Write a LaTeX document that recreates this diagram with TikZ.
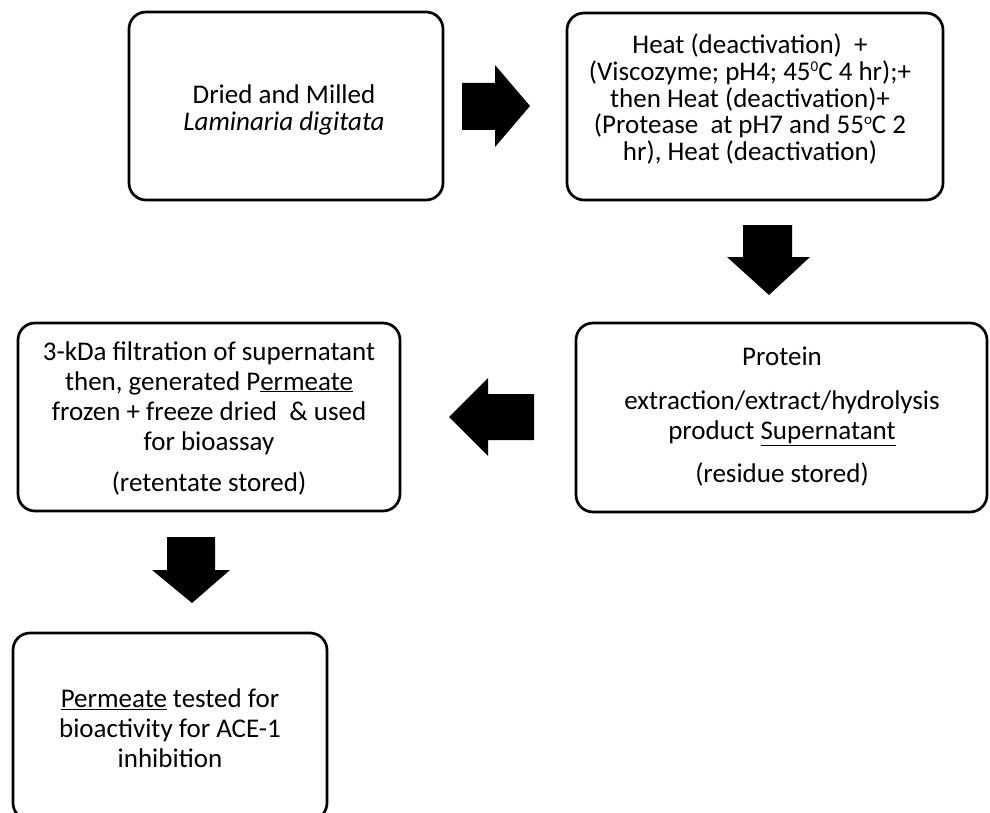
\documentclass[tikz,border=0pt]{standalone}
\usepackage{fontspec}
\setmainfont{Carlito}
\newcommand{\supsm}[1]{\smash{\raisebox{0.33em}{\fontsize{15pt}{15pt}\selectfont #1}}}
\begin{document}
\begin{tikzpicture}[x=1pt,y=-1pt,
  box/.style={draw=black, line width=2.7pt, rounded corners=17pt, fill=white, inner sep=0pt},
  txt/.style={align=center, inner sep=0pt, font=\fontsize{27pt}{30pt}\selectfont},
  txttight/.style={align=center, inner sep=0pt, font=\fontsize{27pt}{26.7pt}\selectfont},
  blockarrow/.style={fill=black, draw=none}]
\useasboundingbox (0,0) rectangle (990,813);
\clip (0,0) rectangle (990,813);
\fill[white] (0,0) rectangle (990,813);

% boxes
\node[box, minimum width=314pt, minimum height=188pt] (b1) at (286,106) {};
\node[box, minimum width=376pt, minimum height=187pt] (b2) at (755,106.5) {};
\node[box, minimum width=382pt, minimum height=188pt] (b3) at (209,417) {};
\node[box, minimum width=411pt, minimum height=189pt] (b4) at (781.5,417.5) {};
\node[box, minimum width=314pt, minimum height=187pt] (b5) at (170,726.5) {};

% texts
\node[txttight] (t1) at (284,110) {Dried and Milled\\\textit{Laminaria digitata}};
\node[txttight] (t2) at (750,99) {Heat (deactivation)\ \ +\\(Viscozyme; pH4; 45\supsm{0}C 4 hr);+\\then Heat (deactivation)+\\(Protease\ \ at pH7 and 55\supsm{o}C 2\\hr), Heat (deactivation)};
\node[txt] (t3) at (209,418) {3-kDa filtration of supernatant\\then, generated P\underline{ermeate}\\frozen + freeze dried\ \ \& used\\for bioassay\\[11pt](retentate stored)};
\node[txt] (t4) at (782,417) {Protein\\[14pt]extraction/extract/hydrolysis\\product \underline{Supernatant}\\[13pt](residue stored)};
\node[txt] (t5) at (170,728) {\underline{Permeate} tested for\\bioactivity for ACE-1\\inhibition};

% block arrows
\fill[blockarrow] (462,83) -- (495,83) -- (495,65) -- (530,106) -- (495,147) -- (495,130) -- (462,130) -- cycle;
\fill[blockarrow] (743,225) -- (792,225) -- (792,257) -- (810,257) -- (769,295) -- (727,257) -- (743,257) -- cycle;
\fill[blockarrow] (534,394) -- (488,394) -- (488,378) -- (449,417) -- (488,456) -- (488,440) -- (534,440) -- cycle;
\fill[blockarrow] (167,537) -- (215,537) -- (215,570) -- (230,570) -- (192,603) -- (152,570) -- (167,570) -- cycle;
\end{tikzpicture}
\end{document}
